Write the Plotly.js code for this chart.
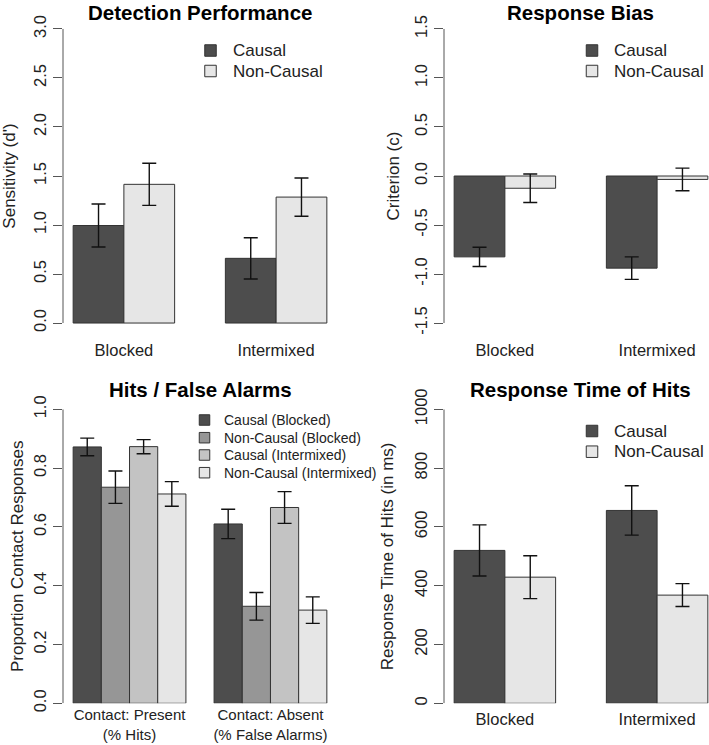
<!DOCTYPE html>
<html>
<head>
<meta charset="utf-8">
<script src="https://cdn.plot.ly/plotly-3.0.1.min.js"></script>
<style>html,body{margin:0;padding:0;background:#fff;}#chart{width:709px;height:745px;}</style>
</head>
<body>
<div id="chart"></div>
<script>
// ---------- data ----------
const conditions = ["Blocked", "Intermixed"];
const twoSeries = ["Causal", "Non-Causal"];
const twoColors = ["#4D4D4D", "#E6E6E6"];

// Detection performance (d')
const sensCausal = [0.995, 0.66];
const sensCausalSE = [0.22, 0.21];
const sensNonCausal = [1.415, 1.285];
const sensNonCausalSE = [0.215, 0.195];
const sensTicks = [0, 0.5, 1, 1.5, 2, 2.5, 3];
const sensTickText = ["0.0", "0.5", "1.0", "1.5", "2.0", "2.5", "3.0"];

// Response bias (c)
const critCausal = [-0.825, -0.94];
const critCausalSE = [0.098, 0.115];
const critNonCausal = [-0.125, -0.035];
const critNonCausalSE = [0.145, 0.115];
const critTicks = [-1.5, -1, -0.5, 0, 0.5, 1, 1.5];
const critTickText = ["-1.5", "-1.0", "-0.5", "0.0", "0.5", "1.0", "1.5"];

// Hits / false alarms
const contactCats = ["Contact: Present<br>(% Hits)", "Contact: Absent<br>(% False Alarms)"];
const fourSeries = ["Causal (Blocked)", "Non-Causal (Blocked)", "Causal (Intermixed)", "Non-Causal (Intermixed)"];
const fourColors = ["#4D4D4D", "#969696", "#C3C3C3", "#E6E6E6"];
const propCausalBlocked = [0.872, 0.61];
const propCausalBlockedSE = [0.03, 0.05];
const propNonCausalBlocked = [0.735, 0.33];
const propNonCausalBlockedSE = [0.055, 0.047];
const propCausalIntermixed = [0.873, 0.666];
const propCausalIntermixedSE = [0.024, 0.054];
const propNonCausalIntermixed = [0.712, 0.317];
const propNonCausalIntermixedSE = [0.042, 0.045];
const propTicks = [0, 0.2, 0.4, 0.6, 0.8, 1.0];
const propTickText = ["0.0", "0.2", "0.4", "0.6", "0.8", "1.0"];

// Response time of hits (ms)
const rtCausal = [520, 656];
const rtCausalSE = [87, 84];
const rtNonCausal = [429, 368];
const rtNonCausalSE = [73, 39];
const rtTicks = [0, 200, 400, 600, 800, 1000];
const rtTickText = ["0", "200", "400", "600", "800", "1000"];

// ---------- helpers ----------
const W = 709, H = 745;
const px = v => v / W;
const py = v => 1 - v / H;
const FONT = "Liberation Sans, Arial, Helvetica, sans-serif";

function barTrace(x, y, se, color, name, ax, width, offset) {
  return {
    type: "bar", x: x, y: y, name: name,
    xaxis: "x" + ax, yaxis: "y" + ax,
    width: width, offset: offset,
    marker: {color: color, line: {color: "#333333", width: 1}},
    error_y: {type: "data", array: se, visible: true, color: "#111111", thickness: 1.4, width: 7},
    showlegend: false, hoverinfo: "x+y+name"
  };
}

const traces = [];
const u2 = 1 / 3;
// panel 1
[[sensCausal, sensCausalSE], [sensNonCausal, sensNonCausalSE]].forEach((s, i) =>
  traces.push(barTrace(conditions, s[0], s[1], twoColors[i], twoSeries[i], "", u2, -u2 + i * u2)));
// panel 2
[[critCausal, critCausalSE], [critNonCausal, critNonCausalSE]].forEach((s, i) =>
  traces.push(barTrace(conditions, s[0], s[1], twoColors[i], twoSeries[i], "2", u2, -u2 + i * u2)));
// panel 3
const u4 = 0.2;
[[propCausalBlocked, propCausalBlockedSE], [propNonCausalBlocked, propNonCausalBlockedSE],
 [propCausalIntermixed, propCausalIntermixedSE], [propNonCausalIntermixed, propNonCausalIntermixedSE]].forEach((s, i) =>
  traces.push(barTrace(contactCats, s[0], s[1], fourColors[i], fourSeries[i], "3", u4, -2 * u4 + i * u4)));
// panel 4
[[rtCausal, rtCausalSE], [rtNonCausal, rtNonCausalSE]].forEach((s, i) =>
  traces.push(barTrace(conditions, s[0], s[1], twoColors[i], twoSeries[i], "4", u2, -u2 + i * u2)));

const tickFont = {family: FONT, size: 16.5, color: "#222222"};
function xAx(dom, range, fs, standoff) {
  return {domain: dom, range: range, type: "category", showgrid: false, zeroline: false, showline: false,
    ticks: "", tickfont: {family: FONT, size: fs || 16.5, color: "#222222"},
    ticklabelstandoff: standoff === undefined ? 4 : standoff, fixedrange: true};
}
function yAx(dom, range, tv, tt, title, standoff) {
  return {domain: dom, range: range, tickvals: tv, ticktext: tt, tickangle: -90,
    ticks: "outside", ticklen: 9, tickcolor: "#555555", tickwidth: 1,
    showgrid: false, zeroline: false, showline: false, tickfont: tickFont, fixedrange: true,
    title: {text: title, font: {family: FONT, size: 17, color: "#222222"}, standoff: standoff}};
}

const topDom = [py(334.8), py(17.2)];
const botDom = [py(703.3), py(409.3)];
const leftDom = [px(63), px(337)];
const rightDom = [px(444), 1];

const layout = {
  width: W, height: H,
  margin: {l: 0, r: 0, t: 0, b: 0},
  paper_bgcolor: "#ffffff", plot_bgcolor: "#ffffff",
  font: {family: FONT, color: "#222222"},
  showlegend: false,
  barmode: "group",
  xaxis: Object.assign(xAx(leftDom, [-0.4, 1.4]), {anchor: "y"}),
  yaxis: Object.assign(yAx(topDom, [-0.12, 3.12], sensTicks, sensTickText, "Sensitivity (d')", 11), {anchor: "x"}),
  xaxis2: Object.assign(xAx(rightDom, [-0.4, 1.341]), {anchor: "y2"}),
  yaxis2: Object.assign(yAx(topDom, [-1.62, 1.62], critTicks, critTickText, "Criterion (c)", 8), {anchor: "x2"}),
  xaxis3: Object.assign(xAx(leftDom, [-0.472, 1.472], 15, 1), {anchor: "y3"}),
  yaxis3: Object.assign(yAx(botDom, [0, 1], propTicks, propTickText, "Proportion Contact Responses", 3), {anchor: "x3"}),
  xaxis4: Object.assign(xAx(rightDom, [-0.4, 1.341]), {anchor: "y4"}),
  yaxis4: Object.assign(yAx(botDom, [0, 1000], rtTicks, rtTickText, "Response Time of Hits (in ms)", 14), {anchor: "x4"}),
  shapes: [],
  annotations: []
};

// axis lines spanning first..last tick
[["", sensTicks], ["2", critTicks], ["3", propTicks], ["4", rtTicks]].forEach(a => {
  layout.shapes.push({type: "line", xref: "x" + a[0] + " domain", yref: "y" + a[0],
    x0: 0, x1: 0, y0: a[1][0], y1: a[1][a[1].length - 1], line: {color: "#555555", width: 1}});
});

// subplot titles
[["Detection Performance", 200, 12], ["Response Bias", 580.5, 12],
 ["Hits / False Alarms", 200, 389], ["Response Time of Hits", 580.5, 389]].forEach(t => {
  layout.annotations.push({text: t[0], xref: "paper", yref: "paper", x: px(t[1]), y: py(t[2]),
    xanchor: "center", yanchor: "middle", showarrow: false, borderpad: 0,
    font: {family: FONT, size: 20.5, color: "#000000", weight: "bold"}});
});

// legends (box + label)
function addLegend(names, colors, cx, rows, box, textX, fs) {
  names.forEach((n, i) => {
    layout.shapes.push({type: "rect", xref: "paper", yref: "paper",
      x0: px(cx - box / 2), x1: px(cx + box / 2), y0: py(rows[i] + box / 2), y1: py(rows[i] - box / 2),
      fillcolor: colors[i], line: {color: "#333333", width: 1}});
    layout.annotations.push({text: n, xref: "paper", yref: "paper", x: px(textX), y: py(rows[i]),
      xanchor: "left", yanchor: "middle", showarrow: false,
      font: {family: FONT, size: fs, color: "#222222"}});
  });
}
addLegend(twoSeries, twoColors, 210.5, [50.5, 71], 11.5, 231, 17);
addLegend(twoSeries, twoColors, 592, [50.5, 71], 11.5, 612, 17);
addLegend(fourSeries, fourColors, 204.5, [420, 437.7, 455, 472.7], 10.5, 222, 14);
addLegend(twoSeries, twoColors, 592, [431, 451.7], 11.5, 612, 17);

Plotly.newPlot("chart", traces, layout, {staticPlot: true, displayModeBar: false});
</script>
</body>
</html>
